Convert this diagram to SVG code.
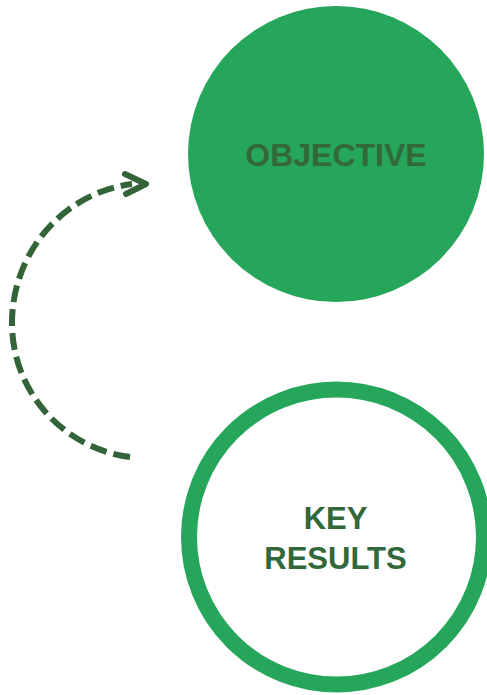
<svg xmlns="http://www.w3.org/2000/svg" width="487" height="695" viewBox="0 0 487 695">
<style>
.lbl{font-family:"Liberation Sans",Arial,sans-serif;font-weight:bold;fill:#33683a;text-anchor:middle}
.conn{fill:none;stroke:#336338;stroke-width:6}
</style>
<rect width="487" height="695" fill="#ffffff"/>
<g id="objective">
<circle cx="336" cy="154" r="148" fill="#26a65b"/>
<text class="lbl" x="336" y="166" font-size="32">OBJECTIVE</text>
</g>
<g id="key-results">
<circle cx="336.5" cy="537" r="147.5" fill="#ffffff" stroke="#26a65b" stroke-width="16"/>
<text class="lbl" x="335.5" y="529" font-size="31">KEY</text>
<text class="lbl" x="335.5" y="569" font-size="31">RESULTS</text>
</g>
<g id="connectors">
<path class="conn" d="M130,457 A135 135 0 0 1 12,323 A137 140 0 0 1 132,184" stroke-dasharray="17 7"/>
<polyline class="conn" points="125,174 146,184 126,194" stroke-width="6.5" stroke-linecap="round" stroke-linejoin="round"/>
</g>
</svg>
